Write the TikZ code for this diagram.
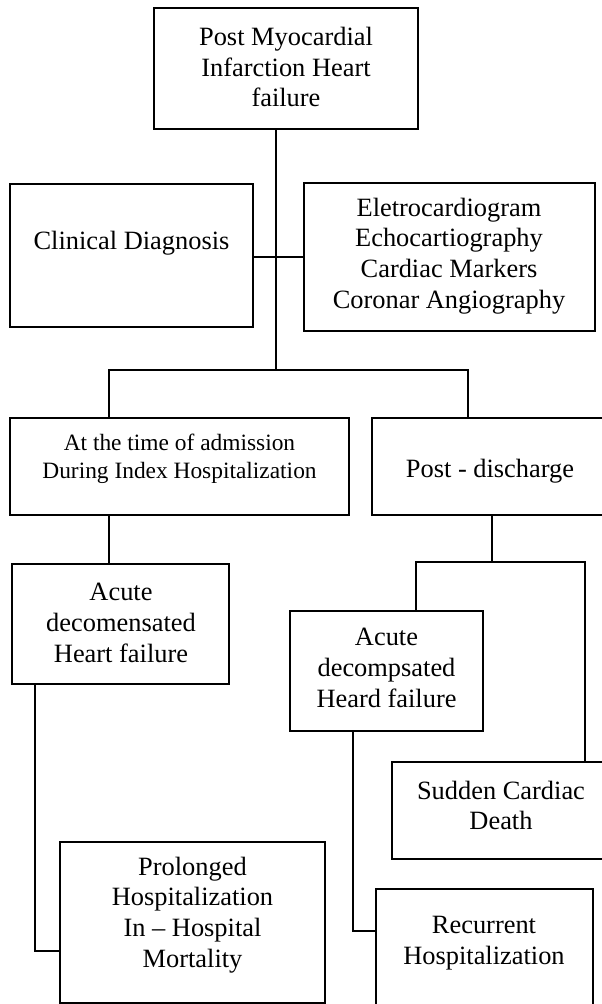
\documentclass[tikz,border=0pt]{standalone}
\usepackage{fontspec}
\setmainfont{Liberation Serif}
\begin{document}
\begin{tikzpicture}[x=1pt,y=-1pt,
  box/.style={draw=black,line width=2.6pt,rectangle,inner sep=0pt},
  txt/.style={inner sep=0pt,align=center,font=\fontsize{26.4}{30.8}\selectfont},
  smalltxt/.style={inner sep=0pt,align=center,font=\fontsize{23.4}{28}\selectfont},
  conn/.style={draw=black,line width=2.6pt,line join=miter}]
\useasboundingbox (0,0) rectangle (602,1004);
\clip (0,0) rectangle (602,1004);
% boxes
\node[box,minimum width=264pt,minimum height=121pt] (top) at (286,68.5) {};
\node[box,minimum width=243pt,minimum height=143pt] (clin) at (131.5,255.5) {};
\node[box,minimum width=291pt,minimum height=148pt] (tests) at (449.5,257) {};
\node[box,minimum width=339pt,minimum height=97pt] (adm) at (179.5,466.5) {};
\node[box,minimum width=268pt,minimum height=97pt] (post) at (506,466.5) {};
\node[box,minimum width=217pt,minimum height=120pt] (adhfa) at (120.5,624) {};
\node[box,minimum width=193pt,minimum height=120pt] (adhfb) at (386.5,671) {};
\node[box,minimum width=248pt,minimum height=97pt] (scd) at (516,810.5) {};
\node[box,minimum width=265pt,minimum height=161pt] (prol) at (192.5,922.5) {};
\node[box,minimum width=217pt,minimum height=171pt] (rec) at (484.5,974.5) {};
% texts
\node[txt] (ttop) at (286,67) {Post Myocardial\\Infarction Heart\\failure};
\node[txt] (tclin) at (131.5,243) {Clinical Diagnosis};
\node[txt] (ttests) at (449,256) {Eletrocardiogram\\Echocartiography\\Cardiac Markers\\Coronar Angiography};
\node[smalltxt] (tadm) at (179.5,459) {At the time of admission\\During Index Hospitalization};
\node[txt] (tpost) at (490,471) {Post - discharge};
\node[txt] (tadhfa) at (121,623) {Acute\\decomensated\\Heart failure};
\node[txt] (tadhfb) at (386.5,668) {Acute\\decompsated\\Heard failure};
\node[txt] (tscd) at (501,805.5) {Sudden Cardiac\\Death};
\node[txt] (tprol) at (192.5,915) {Prolonged\\Hospitalization\\In -- Hospital\\Mortality};
\node[txt] (trec) at (484,943) {Recurrent\\Hospitalization};
% junctions
\coordinate (jA) at (276,370);
\coordinate (jB) at (276,257);
\coordinate (aL) at (109,370);
\coordinate (aR) at (468,370);
\coordinate (pD) at (492,562);
\coordinate (pL) at (416,562);
\coordinate (pR) at (585,562);
\coordinate (qA) at (35,951);
\coordinate (qB) at (353,931);
% connectors
\draw[conn] (top.south -| jA) -- (jA);
\draw[conn] (clin.east |- jB) -- (tests.west |- jB);
\draw[conn] (adm.north -| aL) -- (aL) -- (aR) -- (post.north -| aR);
\draw[conn] (adm.south -| aL) -- (adhfa.north -| aL);
\draw[conn] (post.south -| pD) -- (pD);
\draw[conn] (adhfb.north -| pL) -- (pL) -- (pR) -- (scd.north -| pR);
\draw[conn] (adhfa.south -| qA) -- (qA) -- (prol.west |- qA);
\draw[conn] (adhfb.south -| qB) -- (qB) -- (rec.west |- qB);
\end{tikzpicture}
\end{document}
